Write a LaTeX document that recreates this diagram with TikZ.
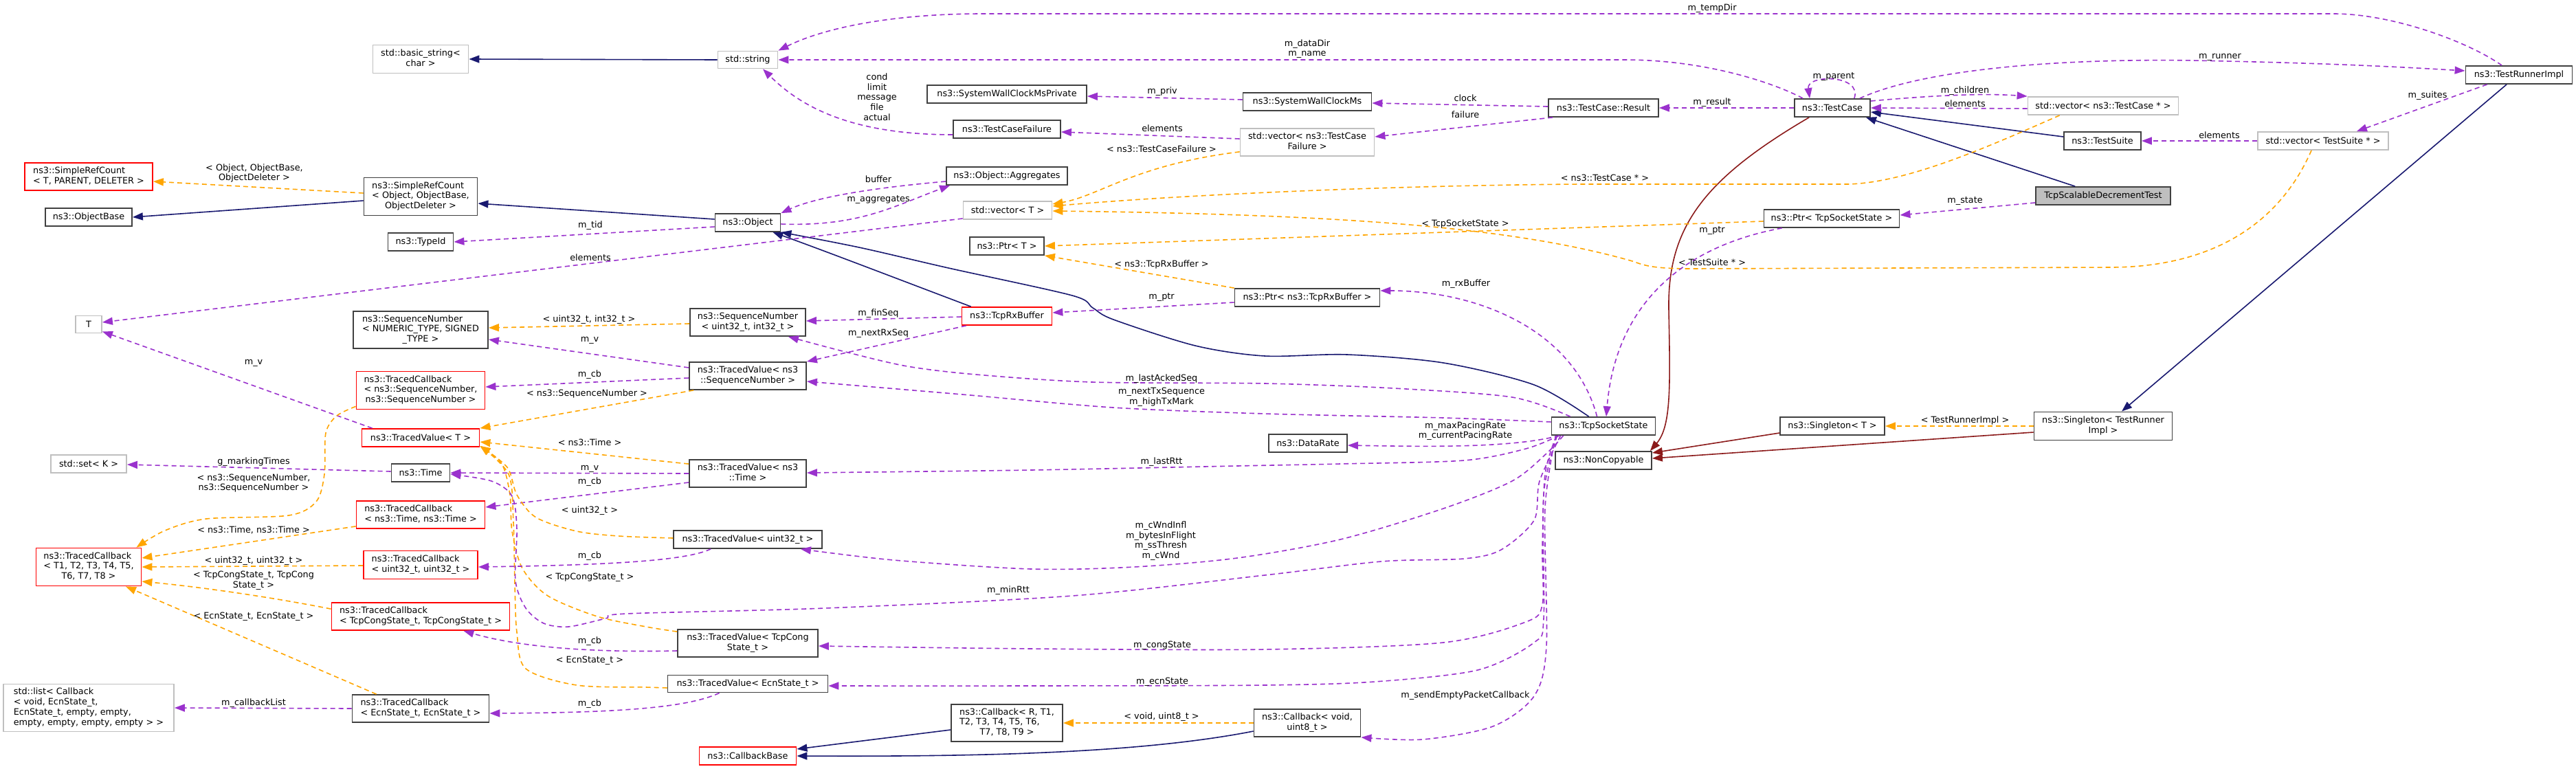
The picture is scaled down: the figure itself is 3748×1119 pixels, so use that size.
\documentclass[tikz,border=0pt]{standalone}
\usepackage{fontspec}
\setmainfont{DejaVu Sans}
\usetikzlibrary{arrows.meta,calc}
\definecolor{usec}{HTML}{9A32CD}
\definecolor{tmplc}{HTML}{FFA500}
\definecolor{inhc}{HTML}{191970}
\definecolor{ncpc}{HTML}{8B1A1A}
\definecolor{extc}{HTML}{BFBFBF}
\definecolor{bordc}{HTML}{404040}
\newcommand{\mlab}[1]{\begin{tabular}{@{}l@{}}#1\end{tabular}}
\newcommand{\lastln}[1]{\multicolumn{1}{@{}c@{}}{#1}}
\begin{document}
\begin{tikzpicture}[x=1pt,y=-1pt,
  font=\fontsize{12.8}{14.7}\selectfont,
  box/.style={draw=bordc,line width=1.8pt,fill=white,inner sep=0pt,minimum height=26pt},
  extbox/.style={box,draw=extc},
  trbox/.style={box,draw=red},
  focbox/.style={box,fill=extc},
  lbl/.style={inner sep=0pt,align=center},
  tipa/.style={-{Triangle[length=15pt,width=11pt]}},
  usage/.style={tipa,draw=usec,line width=1.6pt,dash pattern=on 7pt off 5pt},
  templ/.style={tipa,draw=tmplc,line width=1.6pt,dash pattern=on 7pt off 5pt},
  inh/.style={tipa,draw=inhc,line width=1.6pt},
  ncp/.style={tipa,draw=ncpc,line width=1.6pt},
]
\fill[white] (0,0) rectangle (3748,1119);
\useasboundingbox (0,0) rectangle (3748,1119);

% ---------- nodes ----------
\node[extbox,minimum width=139pt,minimum height=41pt] (basicstr) at (612,86) {\mlab{std::basic\_string<\\\lastln{char >}}};
\node[trbox,minimum width=186pt,minimum height=40pt] (srcT) at (129,257) {\mlab{ns3::SimpleRefCount\\\lastln{< T, PARENT, DELETER >}}};
\node[box,minimum width=126pt] (objbase) at (129,316) {ns3::ObjectBase};
\node[box,minimum width=165pt,minimum height=55pt] (srcObj) at (612,286) {\mlab{ns3::SimpleRefCount\\< Object, ObjectBase,\\\lastln{ObjectDeleter >}}};
\node[box,minimum width=95pt] (typeid) at (612,352) {ns3::TypeId};
\node[extbox,minimum width=87pt,minimum height=25pt] (stdstring) at (1088,87) {std::string};
\node[box,minimum width=232pt] (swcmp) at (1465,137) {ns3::SystemWallClockMsPrivate};
\node[box,minimum width=156pt] (tcf) at (1465,188) {ns3::TestCaseFailure};
\node[box,minimum width=176pt] (aggr) at (1465,256) {ns3::Object::Aggregates};
\node[extbox,minimum width=129pt] (vecT) at (1466,306) {std::vector< T >};
\node[box,minimum width=95pt] (object) at (1088,324) {ns3::Object};
\node[box,minimum width=108pt] (ptrT) at (1465,358) {ns3::Ptr< T >};
\node[box,minimum width=187pt] (swc) at (1902,148) {ns3::SystemWallClockMs};
\node[box,minimum width=160pt] (result) at (2333,157) {ns3::TestCase::Result};
\node[extbox,minimum width=195pt,minimum height=40pt] (vecTCF) at (1902,207) {\mlab{std::vector< ns3::TestCase\\\lastln{Failure >}}};
\node[box,minimum width=110pt] (testcase) at (2666,157) {ns3::TestCase};
\node[box,minimum width=197pt] (ptrTSS) at (2665,318) {ns3::Ptr< TcpSocketState >};
\node[box,minimum width=155pt] (runner) at (3665,109) {ns3::TestRunnerImpl};
\node[extbox,minimum width=219pt] (vecTC) at (3060,154) {std::vector< ns3::TestCase * >};
\node[box,minimum width=112pt] (suite) at (3059,205) {ns3::TestSuite};
\node[extbox,minimum width=190pt] (vecTS) at (3380,205) {std::vector< TestSuite * >};
\node[focbox,minimum width=196pt] (scal) at (3060,285) {TcpScalableDecrementTest};
\node[extbox,minimum width=38pt,minimum height=25pt] (Tnode) at (129,472) {T};
\node[box,minimum width=196pt,minimum height=54pt] (seqNT) at (612,480) {\mlab{ns3::SequenceNumber\\< NUMERIC\_TYPE, SIGNED\\\lastln{\_TYPE >}}};
\node[trbox,minimum width=187pt,minimum height=55pt] (tcSeq) at (612,568) {\mlab{ns3::TracedCallback\\< ns3::SequenceNumber,\\\lastln{ns3::SequenceNumber >}}};
\node[trbox,minimum width=171pt] (tvT) at (612,637) {ns3::TracedValue< T >};
\node[extbox,minimum width=110pt] (setK) at (129,675) {std::set< K >};
\node[box,minimum width=85pt] (time) at (612,688) {ns3::Time};
\node[trbox,minimum width=187pt,minimum height=40pt] (tcTime) at (612,749) {\mlab{ns3::TracedCallback\\\lastln{< ns3::Time, ns3::Time >}}};
\node[box,minimum width=168pt,minimum height=40pt] (seqU) at (1088,469) {\mlab{ns3::SequenceNumber\\\lastln{< uint32\_t, int32\_t >}}};
\node[trbox,minimum width=131pt] (rxbuf) at (1465,460) {ns3::TcpRxBuffer};
\node[box,minimum width=170pt,minimum height=40pt] (tvSeq) at (1088,547) {\mlab{ns3::TracedValue< ns3\\\lastln{::SequenceNumber >}}};
\node[box,minimum width=170pt,minimum height=40pt] (tvTime) at (1088,689) {\mlab{ns3::TracedValue< ns3\\\lastln{::Time >}}};
\node[box,minimum width=211pt] (ptrRx) at (1902,433) {ns3::Ptr< ns3::TcpRxBuffer >};
\node[box,minimum width=151pt] (tss) at (2333,620) {ns3::TcpSocketState};
\node[box,minimum width=114pt] (datarate) at (1903,645) {ns3::DataRate};
\node[box,minimum width=140pt] (noncopy) at (2333,670) {ns3::NonCopyable};
\node[box,minimum width=152pt] (singT) at (2666,620) {ns3::Singleton< T >};
\node[box,minimum width=201pt,minimum height=41pt] (singTR) at (3060,620) {\mlab{ns3::Singleton< TestRunner\\\lastln{Impl >}}};
\node[trbox,minimum width=153pt,minimum height=55pt] (tcT) at (129,825) {\mlab{ns3::TracedCallback\\< T1, T2, T3, T4, T5,\\\lastln{T6, T7, T8 >}}};
\node[trbox,minimum width=166pt,minimum height=41pt] (tcU) at (612,822) {\mlab{ns3::TracedCallback\\\lastln{< uint32\_t, uint32\_t >}}};
\node[trbox,minimum width=259pt,minimum height=40pt] (tcCong) at (612,897) {\mlab{ns3::TracedCallback\\\lastln{< TcpCongState\_t, TcpCongState\_t >}}};
\node[extbox,minimum width=248pt,minimum height=69pt] (stdlist) at (129,1030) {\mlab{std::list< Callback\\< void, EcnState\_t,\\ EcnState\_t, empty, empty,\\\lastln{ empty, empty, empty, empty > >}}};
\node[box,minimum width=199pt,minimum height=40pt] (tcEcn) at (612,1031) {\mlab{ns3::TracedCallback\\\lastln{< EcnState\_t, EcnState\_t >}}};
\node[box,minimum width=216pt] (tvU) at (1088,785) {ns3::TracedValue< uint32\_t >};
\node[box,minimum width=204pt,minimum height=40pt] (tvCong) at (1088,936) {\mlab{ns3::TracedValue< TcpCong\\\lastln{State\_t >}}};
\node[box,minimum width=233pt,minimum height=25pt] (tvEcn) at (1088,995) {ns3::TracedValue< EcnState\_t >};
\node[box,minimum width=162pt,minimum height=54pt] (cbR) at (1465,1052) {\mlab{ns3::Callback< R, T1,\\T2, T3, T4, T5, T6,\\\lastln{T7, T8, T9 >}}};
\node[trbox,minimum width=141pt] (cbBase) at (1088,1100) {ns3::CallbackBase};
\node[box,minimum width=155pt,minimum height=40pt] (cbVoid) at (1902,1052) {\mlab{ns3::Callback< void,\\\lastln{uint8\_t >}}};

% ---------- helper coordinates ----------
\coordinate (tssN1) at ($(tss.north west)+(55,0)$);
\coordinate (objSE) at (object.south east);
\coordinate (tssLA) at ($(tss.north west)+(28,0)$);
\coordinate (seqUse) at ($(seqU.south east)+(-26,0)$);
\coordinate (tssW) at ($(tss.west)+(0,-6)$);
\coordinate (tvSeqE) at ($(tvSeq.east)+(0,8)$);
\coordinate (tssB1) at ($(tss.south west)+(12,0)$);
\coordinate (tssB2) at ($(tss.south west)+(18,0)$);
\coordinate (tssB3) at ($(tss.south west)+(8,0)$);
\coordinate (tssB4) at ($(tss.south west)+(9,0)$);
\coordinate (tssB5) at ($(tss.south west)+(7,0)$);
\coordinate (tssB6) at ($(tss.south west)+(14,0)$);
\coordinate (tvTimeE) at ($(tvTime.east)+(0,-1)$);
\coordinate (tvUW) at ($(tvU.west)+(0,-2)$);
\coordinate (tvTSE) at ($(tvT.south east)+(0,-2)$);
\coordinate (tvCongNW) at ($(tvCong.north west)+(0,4)$);
\coordinate (tvEcnW) at ($(tvEcn.west)+(0,6)$);
\coordinate (tvUSE) at ($(tvU.south east)+(-32,0)$);
\coordinate (tcSeqSW) at ($(tcSeq.south west)+(0,-5)$);
\coordinate (tcTNE) at ($(tcT.north east)+(-8,0)$);
\coordinate (tvCongE) at ($(tvCong.east)+(0,4)$);
\coordinate (tvEcnE) at ($(tvEcn.east)+(0,3)$);
\coordinate (cbVoidSE) at (cbVoid.south east);
\coordinate (timeE) at ($(time.east)+(0,2)$);

% ---------- inheritance ----------
\draw[inh] (stdstring.west) -- (basicstr.east);
\draw[inh] ($(srcObj.west)+(0,6)$) -- (objbase.east);
\draw[templ] ($(srcObj.west)+(0,-5)$) -- ($(srcT.east)+(0,7)$);
\draw[inh] ($(object.west)+(0,-5)$) -- ($(srcObj.east)+(0,10)$);
\draw[inh] ($(rxbuf.north west)+(14,0)$) .. controls (1330,415) and (1200,365) .. ($(object.south east)+(-12,0)$);
\draw[inh] plot[smooth,tension=0.5] coordinates {(tssN1) (2232,560) (2100,528) (1960,516) (1840,518) (1739,503) (1620,465) (1590,448) (1560,430) (1380,390) (1250,360) (objSE)};
\draw[inh] ($(suite.west)+(0,-6)$) -- ($(testcase.east)+(0,6)$);
\draw[inh] ($(scal.north west)+(58,0)$) -- ($(testcase.south east)+(-7,0)$);
\draw[inh] ($(runner.south)+(-18,0)$) -- ($(singTR.north)+(27,0)$);
\draw[templ] (singTR.west) -- (singT.east);
\draw[ncp] ($(testcase.south west)+(22,0)$) .. controls (2480,260) and (2426,330) .. (2428,450) .. controls (2430,560) and (2432,620) .. ($(noncopy.north east)+(-3,0)$);
\draw[ncp] ($(singT.west)+(0,10)$) -- ($(noncopy.east)+(0,-11)$);
\draw[ncp] ($(singTR.west)+(0,9)$) -- ($(noncopy.east)+(0,-3)$);
\draw[inh] ($(cbR.west)+(0,10)$) -- ($(cbBase.east)+(0,-10)$);
\draw[inh] ($(cbVoid.west)+(0,12)$) .. controls (1650,1098) and (1400,1101) .. (cbBase.east);
\draw[templ] (cbVoid.west) -- (cbR.east);

% ---------- usage / template ----------
\draw[usage] ($(runner.north)+(-25,0)$) .. controls (3590,60) and (3480,20) .. (3395,20) -- (1430,20) .. controls (1300,20) and (1200,40) .. (stdstring.north east);
\draw[usage] ($(testcase.north west)+(13,0)$) .. controls (2580,120) and (2480,87) .. (2364,87) -- (stdstring.east);
\draw[usage] ($(tcf.west)+(0,8)$) .. controls (1230,196) and (1160,150) .. ($(stdstring.south)+(22,0)$);
\draw[usage] ($(swc.west)+(0,-3)$) -- ($(swcmp.east)+(0,3)$);
\draw[usage] ($(result.west)+(0,-2)$) -- ($(swc.east)+(0,2)$);
\draw[usage] ($(result.south west)+(7,0)$) -- ($(vecTCF.east)+(0,-8)$);
\draw[usage] (testcase.west) -- (result.east);
\draw[usage] ($(testcase.north east)+(-24,0)$) .. controls (2710,108) and (2628,108) .. ($(testcase.north west)+(23,0)$);
\draw[usage] ($(vecTCF.west)+(0,-5)$) -- ($(tcf.east)+(0,4)$);
\draw[templ] ($(vecTCF.south west)+(0,-7)$) .. controls (1650,240) and (1600,285) .. ($(vecT.east)+(0,-9)$);
\draw[templ] ($(vecTC.south west)+(47,0)$) .. controls (2900,210) and (2780,265) .. (2690,268) -- (2300,268) .. controls (2000,270) and (1700,285) .. ($(vecT.east)+(0,-6)$);
\draw[templ] ($(vecTS.south)+(-17,0)$) .. controls (3310,340) and (3200,388) .. (3074,389) -- (2460,391) .. controls (2400,391) and (2390,385) .. (2375,380) .. controls (2200,330) and (1950,312) .. ($(vecT.east)+(0,1)$);
\draw[templ] ($(ptrTSS.west)+(0,4)$) -- (ptrT.east);
\draw[templ] (ptrRx.north west) -- (ptrT.south east);
\draw[usage] ($(scal.west)+(0,10)$) -- ($(ptrTSS.east)+(0,-5)$);
\draw[usage] ($(ptrTSS.south west)+(27,0)$) .. controls (2440,360) and (2350,450) .. ($(tss.north)+(4,0)$);
\draw[usage] ($(ptrRx.west)+(0,7)$) -- ($(rxbuf.east)+(0,-5)$);
\draw[usage] ($(tss.north west)+(67,0)$) .. controls (2290,480) and (2150,423) .. ($(ptrRx.east)+(0,-10)$);
\draw[usage] ($(object.east)+(0,2)$) .. controls (1250,330) and (1300,300) .. ($(aggr.south west)+(6,0)$);
\draw[usage] ($(aggr.west)+(0,8)$) .. controls (1250,275) and (1180,290) .. (object.north east);
\draw[usage] ($(object.west)+(0,6)$) -- (typeid.east);
\draw[usage] ($(vecT.west)+(0,12)$) -- ($(Tnode.east)+(0,-3)$);
\draw[usage] ($(tvT.north west)+(16,0)$) -- ($(Tnode.south east)+(0,-3)$);
\draw[templ] ($(seqU.west)+(0,2)$) -- ($(seqNT.east)+(0,-3)$);
\draw[usage] ($(tvSeq.west)+(0,-12)$) -- ($(seqNT.east)+(0,14)$);
\draw[usage] ($(tvSeq.west)+(0,3)$) -- ($(tcSeq.east)+(0,-5)$);
\draw[templ] ($(tvSeq.south west)+(7,0)$) -- (tvT.north east);
\draw[usage] ($(rxbuf.west)+(0,1)$) -- ($(seqU.east)+(0,-2)$);
\draw[usage] ($(rxbuf.south west)+(7,0)$) -- (tvSeq.north east);
\draw[usage] plot[smooth,tension=0.5] coordinates {(tssLA) (2200,578) (2028,565) (1840,558) (1589,556) (1420,545) (1320,533) (1230,512) (seqUse)};
\draw[usage] plot[smooth,tension=0.5] coordinates {(tssW) (2100,608) (1840,602) (1619,593) (1400,574) (tvSeqE)};
\draw[usage] ($(tss.south west)+(12,0)$) .. controls (2200,652) and (2080,650) .. ($(datarate.east)+(0,3)$);
\draw[usage] plot[smooth,tension=0.5] coordinates {(tssB1) (2220,653) (2130,670) (1950,675) (1800,678) (1500,684) (tvTimeE)};
\draw[usage] (tvTime.west) -- (time.east);
\draw[usage] ($(time.west)+(0,-2)$) -- ($(setK.east)+(0,1)$);
\draw[usage] ($(tvTime.west)+(0,13)$) -- ($(tcTime.east)+(0,-11)$);
\draw[templ] ($(tvTime.north west)+(0,7)$) -- ($(tvT.east)+(0,6)$);
\draw[templ] plot[smooth,tension=0.5] coordinates {(tvUW) (900,780) (839,773) (780,753) (752,720) (738,680) (tvTSE)};
\draw[templ] plot[smooth,tension=0.5] coordinates {(tvCongNW) (940,912) (869,897) (797,867) (760,827) (745,773) (742,720) (730,675) (tvTSE)};
\draw[templ] plot[smooth,tension=0.5] coordinates {(tvEcnW) (940,1000) (839,997) (765,973) (752,920) (749,850) (747,760) (740,690) (tvTSE)};
\draw[usage] plot[smooth,tension=0.5] coordinates {(tssB2) (2250,660) (2200,700) (2100,740) (1950,785) (1800,812) (1650,825) (1500,828) (1300,815) (tvUSE)};
\draw[usage] ($(tvU.south west)+(55,0)$) .. controls (1000,815) and (900,822) .. ($(tcU.east)+(0,3)$);
\draw[templ] plot[smooth,tension=0.5] coordinates {(tcSeqSW) (490,605) (474,630) (472,690) (460,730) (420,750) (300,755) (240,772) (tcTNE)};
\draw[templ] ($(tcTime.south west)+(0,-4)$) -- ($(tcT.east)+(0,-13)$);
\draw[templ] ($(tcU.west)+(0,1)$) -- (tcT.east);
\draw[templ] ($(tcCong.north west)+(0,10)$) .. controls (400,870) and (300,855) .. ($(tcT.east)+(0,21)$);
\draw[templ] ($(tcEcn.north west)+(36,0)$) -- ($(tcT.south)+(54,0)$);
\draw[usage] ($(tvCong.west)+(0,11)$) .. controls (850,950) and (750,940) .. ($(tcCong.south east)+(-68,0)$);
\draw[usage] plot[smooth,tension=0.5] coordinates {(tssB3) (2248,690) (2244,800) (2244,880) (2220,905) (2100,935) (1840,945) (1500,944) (tvCongE)};
\draw[usage] plot[smooth,tension=0.5] coordinates {(tssB4) (2246,720) (2246,900) (2232,935) (2150,975) (2000,992) (1840,997) (1500,998) (tvEcnE)};
\draw[usage] ($(tvEcn.south west)+(76,0)$) .. controls (1000,1030) and (900,1037) .. ($(tcEcn.east)+(0,7)$);
\draw[usage] (tcEcn.west) -- (stdlist.east);
\draw[usage] plot[smooth,tension=0.5] coordinates {(tssB5) (2248,740) (2250,940) (2232,1013) (2172,1057) (2070,1076) (cbVoidSE)};
\draw[usage] plot[smooth,tension=0.5] coordinates {(tssB6) (2240,700) (2232,757) (2184,800) (2130,813) (2010,817) (1840,837) (1560,867) (1200,885) (912,893) (881,900) (827,912) (791,907) (765,885) (750,845) (752,770) (745,722) (715,700) (timeE)};
\draw[usage] ($(testcase.east)+(0,-10)$) .. controls (2800,140) and (2880,135) .. (vecTC.north west);
\draw[usage] ($(vecTC.west)+(0,4)$) -- (testcase.east);
\draw[usage] ($(testcase.north east)+(-16,0)$) .. controls (2800,100) and (3000,85) .. (3190,88) .. controls (3400,92) and (3500,98) .. ($(runner.west)+(0,-6)$);
\draw[usage] ($(runner.south west)+(32,0)$) -- ($(vecTS.north east)+(-47,0)$);
\draw[usage] (vecTS.west) -- (suite.east);

% ---------- labels ----------
\node[lbl] (l1) at (370,252) {< Object, ObjectBase,\\ObjectDeleter >};
\node[lbl] (l2) at (859,328) {m\_tid};
\node[lbl] (l3) at (859,375) {elements};
\node[lbl] (l4) at (1276,141) {cond\\limit\\message\\file\\actual};
\node[lbl] (l5) at (1691,133) {m\_priv};
\node[lbl] (l6) at (1691,187) {elements};
\node[lbl] (l7) at (1690,217) {< ns3::TestCaseFailure >};
\node[lbl] (l8) at (1278,261) {buffer};
\node[lbl] (l9) at (1278,291) {m\_aggregates};
\node[lbl] (l10) at (2491,12) {m\_tempDir};
\node[lbl] (l11) at (1902,71) {m\_dataDir\\m\_name};
\node[lbl] (l12) at (2132,143) {clock};
\node[lbl] (l13) at (2132,167) {failure};
\node[lbl] (l14) at (2491,149) {m\_result};
\node[lbl] (l15) at (2668,112) {m\_parent};
\node[lbl] (l16) at (2335,259) {< ns3::TestCase * >};
\node[lbl] (l17) at (2132,326) {< TcpSocketState >};
\node[lbl] (l18) at (2491,336) {m\_ptr};
\node[lbl] (l19) at (2491,382) {< TestSuite * >};
\node[lbl] (l20) at (3230,83) {m\_runner};
\node[lbl] (l21) at (2859,132) {m\_children};
\node[lbl] (l22) at (2859,151) {elements};
\node[lbl] (l23) at (3229,197) {elements};
\node[lbl] (l24) at (3532,139) {m\_suites};
\node[lbl] (l25) at (2859,293) {m\_state};
\node[lbl] (l26) at (857,465) {< uint32\_t, int32\_t >};
\node[lbl] (l27) at (858,495) {m\_v};
\node[lbl] (l28) at (369,528) {m\_v};
\node[lbl] (l29) at (858,545) {m\_cb};
\node[lbl] (l30) at (854,573) {< ns3::SequenceNumber >};
\node[lbl] (l31) at (858,644) {< ns3::Time >};
\node[lbl] (l32) at (369,672) {g\_markingTimes};
\node[lbl] (l33) at (369,703) {< ns3::SequenceNumber,\\ns3::SequenceNumber >};
\node[lbl] (l34) at (858,682) {m\_v};
\node[lbl] (l35) at (858,701) {m\_cb};
\node[lbl] (l36) at (858,743) {< uint32\_t >};
\node[lbl] (l37) at (1690,385) {< ns3::TcpRxBuffer >};
\node[lbl] (l38) at (1690,433) {m\_ptr};
\node[lbl] (l39) at (1278,456) {m\_finSeq};
\node[lbl] (l40) at (1278,485) {m\_nextRxSeq};
\node[lbl] (l41) at (1690,551) {m\_lastAckedSeq};
\node[lbl] (l42) at (1690,578) {m\_nextTxSequence\\m\_highTxMark};
\node[lbl] (l43) at (1690,672) {m\_lastRtt};
\node[lbl] (l44) at (2133,413) {m\_rxBuffer};
\node[lbl] (l45) at (2132,627) {m\_maxPacingRate\\m\_currentPacingRate};
\node[lbl] (l46) at (2859,612) {< TestRunnerImpl >};
\node[lbl] (l47) at (369,771) {< ns3::Time, ns3::Time >};
\node[lbl] (l48) at (369,816) {< uint32\_t, uint32\_t >};
\node[lbl] (l49) at (369,845) {< TcpCongState\_t, TcpCong\\State\_t >};
\node[lbl] (l50) at (369,897) {< EcnState\_t, EcnState\_t >};
\node[lbl] (l51) at (369,1023) {m\_callbackList};
\node[lbl] (l52) at (858,809) {m\_cb};
\node[lbl] (l53) at (858,840) {< TcpCongState\_t >};
\node[lbl] (l54) at (858,933) {m\_cb};
\node[lbl] (l55) at (858,961) {< EcnState\_t >};
\node[lbl] (l56) at (858,1024) {m\_cb};
\node[lbl] (l57) at (1689,787) {m\_cWndInfl\\m\_bytesInFlight\\m\_ssThresh\\m\_cWnd};
\node[lbl] (l58) at (1467,859) {m\_minRtt};
\node[lbl] (l59) at (1691,939) {m\_congState};
\node[lbl] (l60) at (1691,992) {m\_ecnState};
\node[lbl] (l61) at (1690,1043) {< void, uint8\_t >};
\node[lbl] (l62) at (2132,1012) {m\_sendEmptyPacketCallback};
\end{tikzpicture}
\end{document}
